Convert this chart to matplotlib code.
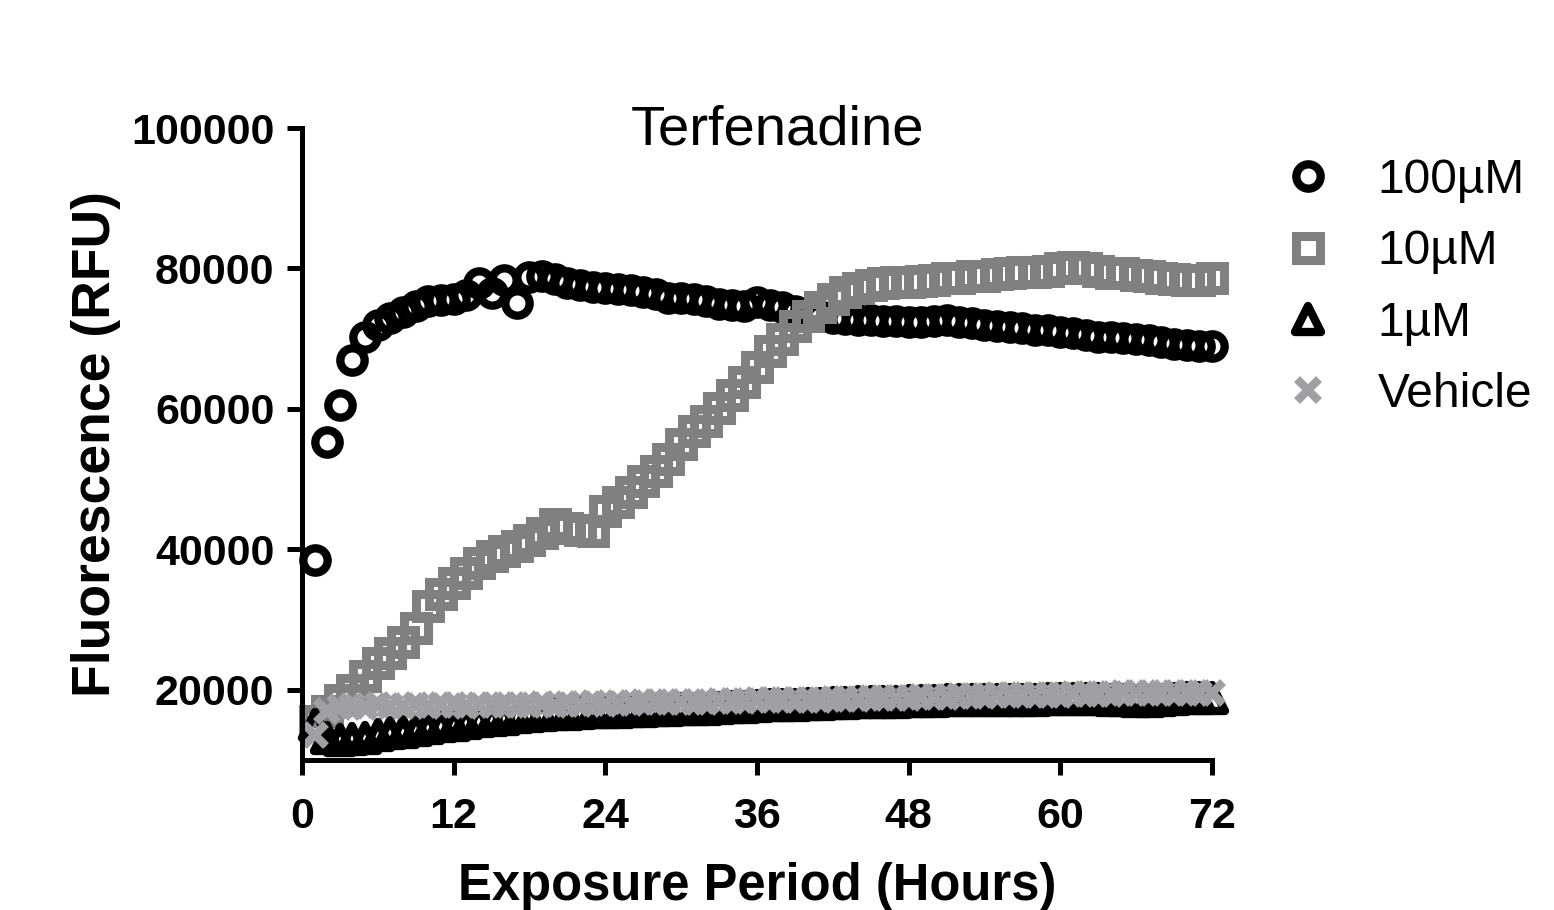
import matplotlib.pyplot as plt
from matplotlib.markers import MarkerStyle

plt.rcParams['font.family'] = ['Liberation Sans', 'DejaVu Sans']

hours = list(range(1, 73))

# readings, one per hour
uM100 = [38500, 55300, 60600, 67000, 70300, 72000, 73000, 73800, 74600, 75300,
         75500, 75700, 76200, 78000, 76500, 78400, 75100, 78800, 79000, 78500,
         78000, 77600, 77300, 77200, 77100, 77000, 76700, 76300, 75800, 75800,
         75700, 75300, 75000, 74800, 74700, 75200, 74800, 74500, 74000, 73500,
         73200, 73000, 72800, 72700, 72600, 72500, 72500, 72400, 72400, 72500,
         72600, 72400, 72300, 72000, 71800, 71600, 71500, 71300, 71200, 71000,
         70800, 70500, 70300, 70200, 70100, 70000, 69800, 69600, 69300, 69100,
         69000, 69000]
uM10 = [15500, 17000, 18500, 20000, 22000, 23800, 25300, 26800, 28800, 32000,
        33600, 35200, 36700, 38000, 39000, 39800, 40500, 41300, 42300, 43600,
        43000, 42700, 42600, 45500, 46800, 48200, 49700, 51200, 52800, 55000,
        56800, 58300, 60200, 62000, 63900, 66000, 68200, 70000, 71800, 73200,
        74500, 75700, 76700, 77200, 77600, 77900, 78100, 78100, 78200, 78400,
        78600, 78700, 78900, 79000, 79200, 79400, 79500, 79500, 79600, 80100,
        80200, 80100, 79700, 79400, 79300, 79100, 78900, 78700, 78500, 78300,
        78400, 78700]
uM1 = [15000, 13200, 12900, 13000, 13200, 13500, 13800, 14000, 14300, 14600,
       14800, 15000, 15300, 15500, 15700, 15900, 16100, 16200, 16400, 16500,
       16600, 16700, 16800, 16900, 16900, 17000, 17000, 17100, 17100, 17200,
       17300, 17300, 17400, 17500, 17600, 17700, 17800, 17900, 17900, 18000,
       18000, 18100, 18100, 18200, 18200, 18300, 18300, 18400, 18400, 18400,
       18500, 18500, 18500, 18500, 18600, 18600, 18600, 18600, 18700, 18700,
       18700, 18700, 18700, 18600, 18500, 18400, 18400, 18600, 18700, 18800,
       18800, 18800]
vehicle = [13500, 17000, 17500, 17700, 17600, 17800, 17700, 17700, 17800, 17700,
           17800, 17800, 17700, 17800, 17900, 17800, 17900, 17900, 18000, 17900,
           18000, 18000, 18100, 18000, 18100, 18100, 18200, 18200, 18200, 18300,
           18300, 18300, 18400, 18400, 18400, 18500, 18500, 18500, 18600, 18600,
           18600, 18700, 18700, 18700, 18800, 18800, 18900, 18900, 19000, 19000,
           19000, 19100, 19100, 19100, 19200, 19200, 19200, 19300, 19300, 19300,
           19400, 19400, 19400, 19400, 19500, 19500, 19500, 19500, 19600, 19600,
           19600, 19600]

xticks = [0, 12, 24, 36, 48, 60, 72]
yticks = [20000, 40000, 60000, 80000, 100000]
ytick_labels = ['20000', '40000', '60000', '80000', '100000']

fig = plt.figure(figsize=(15.54, 9.1), dpi=100)
ax = fig.add_axes([0.1943, 0.1648, 0.5856, 0.6945])

tri = MarkerStyle('^', joinstyle='round')
ax.plot(hours, uM100, ls='none', marker='o', ms=17.5, mew=6,
        mec='black', mfc='none', label='100\u00b5M', clip_on=False)
ax.plot(hours, uM10, ls='none', marker='s', ms=17, mew=6.5,
        mec='#808080', mfc='none', label='10\u00b5M', clip_on=False)
ax.plot(hours, uM1, ls='none', marker=tri, ms=19, mew=6,
        mec='black', mfc='none', label='1\u00b5M', clip_on=False)
ax.plot(hours, vehicle, ls='none', marker='x', ms=15.5, mew=6,
        mec='#a0a0a4', label='Vehicle', clip_on=False)

ax.set_xlim(0, 72)
ax.set_ylim(10000, 100000)
ax.set_xticks(xticks)
ax.set_yticks(yticks)
ax.set_yticklabels(ytick_labels)
for s in ['top', 'right']:
    ax.spines[s].set_visible(False)
for s in ['left', 'bottom']:
    ax.spines[s].set_linewidth(3.6)
ax.tick_params(length=10.8, width=3.6, labelsize=31)
ax.tick_params(axis='x', pad=16)
ax.tick_params(axis='y', pad=9)
for lab in ax.get_xticklabels() + ax.get_yticklabels():
    lab.set_fontweight('bold')

ax.set_xlabel('Exposure Period (Hours)', fontsize=36.5, fontweight='bold', labelpad=18)
ax.set_ylabel('Fluorescence (RFU)', fontsize=38.5, fontweight='bold', labelpad=7)
fig.text(777 / 1554, 1 - 131 / 910, 'Terfenadine', fontsize=40.5,
         ha='center', va='center')

ax.legend(loc='upper left', bbox_to_anchor=(1284 / 1554, 1 - 158 / 910),
          bbox_transform=fig.transFigure, frameon=False, fontsize=34.5,
          handlelength=1.0, handletextpad=0.95, labelspacing=0.55,
          borderpad=0, borderaxespad=0)

fig.savefig('out.png', dpi=100)
